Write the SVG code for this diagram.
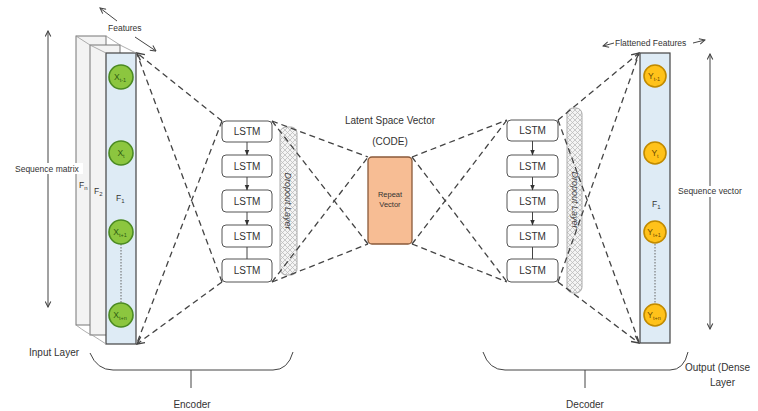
<svg xmlns="http://www.w3.org/2000/svg" width="758" height="411" viewBox="0 0 758 411">
  <style>
    text { font-family: "Liberation Sans", "Open Sans", sans-serif; fill: #333; }
    .lbl { font-size: 10px; }
    .sm { font-size: 8.5px; }
    .lstm rect { fill: #fff; stroke: #555; stroke-width: 1; }
    .lstm text { font-size: 10px; text-anchor: middle; }
    .dash { fill: none; stroke: #444; stroke-width: 1.3; stroke-dasharray: 6 4; }
    .bracket { fill: none; stroke: #444; stroke-width: 1; }
    .axis { stroke: #444; stroke-width: 1; fill: none; }
    .panel-back { fill: #f3f3f3; stroke: #777; stroke-width: 1; }
    .panel-front { fill: #deebf5; stroke: #444; stroke-width: 1.2; }
    .edge { stroke: #999; stroke-width: 0.8; fill: none; }
    .xin circle { fill: #8cc63f; stroke: #4b8a22; stroke-width: 1.6; }
    .xin text { font-size: 8.5px; fill: #2f5d12; text-anchor: middle; }
    .yout circle { fill: #ffc21a; stroke: #c08a00; stroke-width: 1.6; }
    .yout text { font-size: 8.5px; fill: #6a4a00; text-anchor: middle; }
    .drop rect { fill: url(#hatch); stroke: #aaa; stroke-width: 1; }
    .drop text { font-size: 9px; fill: #444; text-anchor: middle; }
    .chain { stroke: #444; stroke-width: 1; fill: none; }
    .dots { stroke: #666; stroke-width: 1; stroke-dasharray: 1.5 1.5; }
  </style>
  <defs>
    <pattern id="hatch" width="5" height="5" patternUnits="userSpaceOnUse">
      <rect width="5" height="5" fill="#f4f4f4"/>
      <path d="M0,0 L5,5 M5,0 L0,5" stroke="#bdbdbd" stroke-width="0.8"/>
    </pattern>
    <marker id="tip" viewBox="0 0 10 10" refX="9" refY="5" markerWidth="7" markerHeight="7" orient="auto-start-reverse">
      <path d="M1,1 L9,5 L1,9" fill="none" stroke="#444" stroke-width="1.5"/>
    </marker>
    <marker id="solid" viewBox="0 0 10 10" refX="9" refY="5" markerWidth="6" markerHeight="6" orient="auto">
      <path d="M0,1 L10,5 L0,9 Z" fill="#333"/>
    </marker>
  </defs>

  <rect width="758" height="411" fill="#fff"/>

  <!-- input feature matrix (stacked panels) -->
  <g id="input-matrix">
    <rect class="panel-back" x="76" y="36" width="30" height="289"/>
    <rect class="panel-back" x="90" y="45" width="30" height="290"/>
    <rect class="panel-front" x="106" y="53" width="30" height="291"/>
    <path class="edge" d="M76,36 L90,45 L106,53 M106,36 L120,45 L136,53"/>
    <path class="edge" d="M76,325 Q88,334 92,335 Q100,340 106,344"/>
    <text class="sm" x="79" y="188">F<tspan font-size="6" dy="2">n</tspan></text>
    <text class="sm" x="94" y="194">F<tspan font-size="6" dy="2">2</tspan></text>
    <text class="sm" x="116" y="201">F<tspan font-size="6" dy="2">1</tspan></text>
    <line class="dots" x1="121" y1="244" x2="121" y2="303"/>
    <g class="xin">
      <circle cx="121" cy="77" r="12"/>
      <text x="120" y="80">X<tspan font-size="5.5" dy="1.5">t-1</tspan></text>
      <circle cx="121" cy="153" r="12"/>
      <text x="121" y="156">X<tspan font-size="5.5" dy="1.5">t</tspan></text>
      <circle cx="121" cy="232" r="12"/>
      <text x="120" y="235">X<tspan font-size="5.5" dy="1.5">t+1</tspan></text>
      <circle cx="121" cy="315" r="12"/>
      <text x="120" y="318">X<tspan font-size="5.5" dy="1.5">t+n</tspan></text>
    </g>
  </g>

  <!-- axis annotations -->
  <g id="features-axis">
    <line class="axis" x1="100" y1="8" x2="117" y2="21" marker-start="url(#tip)"/>
    <line class="axis" x1="135" y1="37" x2="156" y2="51" marker-end="url(#tip)"/>
    <text class="sm" x="108" y="31" font-size="8">Features</text>
  </g>
  <g id="sequence-matrix-axis">
    <line class="axis" x1="48" y1="31" x2="48" y2="307" marker-start="url(#tip)" marker-end="url(#tip)"/>
    <rect x="14" y="163" width="69" height="11" fill="#fff"/>
    <text class="sm" x="15" y="172">Sequence matrix</text>
  </g>

  <!-- encoder LSTM stack -->
  <g id="encoder-lstm" class="lstm">
    <rect x="222" y="121" width="50" height="21" rx="4"/>
    <rect x="222" y="155" width="50" height="22" rx="4"/>
    <rect x="222" y="190" width="50" height="22" rx="4"/>
    <rect x="222" y="225" width="50" height="22" rx="4"/>
    <rect x="222" y="259" width="50" height="23" rx="4"/>
    <text x="247" y="135">LSTM</text>
    <text x="247" y="170">LSTM</text>
    <text x="247" y="205">LSTM</text>
    <text x="247" y="240">LSTM</text>
    <text x="247" y="274">LSTM</text>
    <line class="chain" x1="247" y1="142" x2="247" y2="155" marker-end="url(#solid)"/>
    <line class="chain" x1="247" y1="177" x2="247" y2="190" marker-end="url(#solid)"/>
    <line class="chain" x1="247" y1="212" x2="247" y2="225" marker-end="url(#solid)"/>
    <line class="chain" x1="247" y1="247" x2="247" y2="259"/>
  </g>
  <g id="encoder-dropout" class="drop">
    <rect x="280" y="127" width="17" height="148" rx="6"/>
    <text transform="translate(285,201) rotate(90)" font-style="italic">Dropout Layer</text>
  </g>

  <!-- latent code -->
  <g id="latent-vector">
    <text class="lbl" x="390" y="124" text-anchor="middle" font-size="10.5">Latent Space Vector</text>
    <text class="lbl" x="390" y="145" text-anchor="middle" font-size="10.5">(CODE)</text>
    <rect x="368" y="157" width="44" height="87" rx="4" fill="#f7bd94" stroke="#8a5a3a" stroke-width="1.3"/>
    <text x="390" y="197" text-anchor="middle" font-size="7.5" fill="#6b3d20">Repeat</text>
    <text x="390" y="207" text-anchor="middle" font-size="7.5" fill="#6b3d20">Vector</text>
  </g>

  <!-- decoder LSTM stack -->
  <g id="decoder-lstm" class="lstm">
    <rect x="507" y="120" width="51" height="21" rx="4"/>
    <rect x="507" y="155" width="51" height="22" rx="4"/>
    <rect x="507" y="190" width="51" height="22" rx="4"/>
    <rect x="507" y="225" width="51" height="22" rx="4"/>
    <rect x="507" y="259" width="51" height="23" rx="4"/>
    <text x="532.5" y="134">LSTM</text>
    <text x="532.5" y="170">LSTM</text>
    <text x="532.5" y="205">LSTM</text>
    <text x="532.5" y="240">LSTM</text>
    <text x="532.5" y="274">LSTM</text>
    <line class="chain" x1="532.5" y1="141" x2="532.5" y2="155" marker-end="url(#solid)"/>
    <line class="chain" x1="532.5" y1="177" x2="532.5" y2="190" marker-end="url(#solid)"/>
    <line class="chain" x1="532.5" y1="212" x2="532.5" y2="225" marker-end="url(#solid)"/>
    <line class="chain" x1="532.5" y1="247" x2="532.5" y2="259"/>
  </g>
  <g id="decoder-dropout" class="drop">
    <rect x="567" y="108" width="15" height="185" rx="6"/>
    <text transform="translate(571.5,200) rotate(90)" font-style="italic">Dropout Layer</text>
  </g>

  <!-- output dense layer -->
  <g id="output-vector">
    <rect class="panel-front" x="640" y="53" width="30" height="290"/>
    <text class="sm" x="652" y="207">F<tspan font-size="6" dy="2">1</tspan></text>
    <line class="dots" x1="655" y1="244" x2="655" y2="303"/>
    <g class="yout">
      <circle cx="655" cy="76" r="11"/>
      <text x="654" y="79">Y<tspan font-size="5.5" dy="1.5">t-1</tspan></text>
      <circle cx="655" cy="153" r="11"/>
      <text x="655" y="156">Y<tspan font-size="5.5" dy="1.5">t</tspan></text>
      <circle cx="655" cy="232" r="11"/>
      <text x="654" y="235">Y<tspan font-size="5.5" dy="1.5">t+1</tspan></text>
      <circle cx="655" cy="315" r="11"/>
      <text x="654" y="318">Y<tspan font-size="5.5" dy="1.5">t+n</tspan></text>
    </g>
  </g>
  <g id="flattened-axis">
    <line class="axis" x1="603" y1="46" x2="614" y2="43" marker-start="url(#tip)"/>
    <line class="axis" x1="693" y1="43" x2="705" y2="40" marker-end="url(#tip)"/>
    <text class="sm" x="615" y="46" font-size="8">Flattened Features</text>
  </g>
  <g id="sequence-vector-axis">
    <line class="axis" x1="710" y1="54" x2="710" y2="329" marker-start="url(#tip)" marker-end="url(#tip)"/>
    <rect x="677" y="186" width="67" height="11" fill="#fff"/>
    <text class="sm" x="678" y="194">Sequence vector</text>
  </g>

  <!-- connectors -->
  <g id="connectors">
    <path class="dash" d="M222,121 L137,53" marker-end="url(#tip)"/>
    <path class="dash" d="M222,282 L137,54"/>
    <path class="dash" d="M222,121 L137,343"/>
    <path class="dash" d="M222,282 L137,344" marker-end="url(#tip)"/>

    <path class="dash" d="M272,121 L368,157"/>
    <path class="dash" d="M272,121 L368,244"/>
    <path class="dash" d="M272,282 L368,157"/>
    <path class="dash" d="M272,282 L368,244"/>

    <path class="dash" d="M412,157 L507,120"/>
    <path class="dash" d="M412,157 L507,282"/>
    <path class="dash" d="M412,244 L507,120"/>
    <path class="dash" d="M412,244 L507,282"/>

    <path class="dash" d="M558,120 L639,53" marker-end="url(#tip)"/>
    <path class="dash" d="M558,282 L639,54"/>
    <path class="dash" d="M558,120 L639,342"/>
    <path class="dash" d="M558,282 L639,343" marker-end="url(#tip)"/>
  </g>

  <!-- layer labels and brackets -->
  <g id="encoder-bracket">
    <path class="bracket" d="M90,353 Q97,370 113,370 L273,370 Q288,370 293,352"/>
    <line class="bracket" x1="191" y1="370" x2="191" y2="388"/>
    <text class="lbl" x="192" y="408" text-anchor="middle">Encoder</text>
  </g>
  <g id="decoder-bracket">
    <path class="bracket" d="M483,352 Q489,370 505,370 L670,370 Q684,370 688,352"/>
    <line class="bracket" x1="585" y1="370" x2="585" y2="388"/>
    <text class="lbl" x="585" y="408" text-anchor="middle">Decoder</text>
  </g>
  <text class="lbl" x="29" y="356">Input Layer</text>
  <text class="lbl" x="685" y="371">Output (Dense</text>
  <text class="lbl" x="710" y="386">Layer</text>
</svg>
